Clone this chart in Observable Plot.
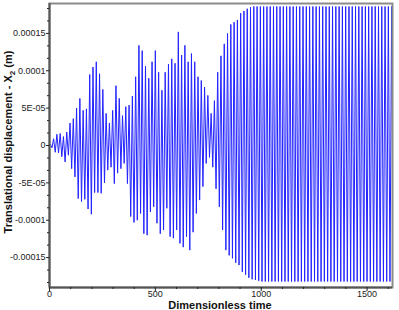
<!DOCTYPE html>
<html><head><meta charset="utf-8">
<script src="https://cdn.jsdelivr.net/npm/d3@7"></script>
<script src="https://cdn.jsdelivr.net/npm/@observablehq/plot@0.6"></script>
<style>html,body{margin:0;padding:0;background:#fff}svg{display:block}</style>
</head><body><div id="chart"></div>
<script>
// Oscillation: one maximum and one minimum per cycle (units of 1e-5 m)
const period = 15.5;          // dimensionless time per cycle
const firstPeakTime = 3.9;
const maxima = [0.2,0.9,1.5,1.6,1.2,1.8,3.0,3.6,5.0,6.3,4.7,4.9,9.5,10.5,11.2,9.6,7.5,4.3,3.0,4.7,
  8.0,6.3,4.0,5.2,5.4,6.6,9.2,13.4,12.7,10.6,9.0,11.2,12.7,9.8,7.4,9.8,10.9,11.6,11.0,15.2,
  12.1,13.4,11.2,12.3,11.2,9.2,8.7,7.8,6.7,4.3,6.0,9.8,12.0,13.6,15.0,16.2,16.5,16.8,17.7,18.0,
  18.3,18.5,18.6,18.6,18.6,18.6,18.6,18.6,18.6,18.6,18.6,18.6,18.6,18.6,18.6,18.6,18.6,18.6,18.6,18.6,
  18.6,18.6,18.6,18.6,18.6,18.6,18.6,18.6,18.6,18.6,18.6,18.6,18.6,18.6,18.6,18.6,18.6,18.6,18.6,18.6,
  18.6,18.6,18.6,18.6,18.6];
const minima = [-0.3,-0.9,-1.0,-1.5,-2.2,-1.3,-3.1,-4.2,-7.1,-7.5,-7.2,-8.5,-9.2,-6.3,-6.3,-6.4,-5.0,-3.3,-2.9,-5.1,
  -3.7,-3.1,-2.4,-5.1,-9.5,-10.3,-10.0,-9.1,-11.8,-12.0,-8.9,-8.2,-10.4,-11.8,-11.3,-8.4,-12.2,-12.4,-11.3,-13.1,
  -13.6,-12.2,-14.0,-11.6,-9.1,-7.3,-5.5,-2.4,-1.6,-2.9,-5.8,-8.2,-11.3,-14.0,-14.7,-15.1,-15.7,-16.0,-16.9,-17.3,
  -17.7,-17.9,-18.0,-18.1,-18.2,-18.2,-18.2,-18.2,-18.2,-18.2,-18.2,-18.2,-18.2,-18.2,-18.2,-18.2,-18.2,-18.2,-18.2,-18.2,
  -18.2,-18.2,-18.2,-18.2,-18.2,-18.2,-18.2,-18.2,-18.2,-18.2,-18.2,-18.2,-18.2,-18.2,-18.2,-18.2,-18.2,-18.2,-18.2,-18.2,
  -18.2,-18.2,-18.2,-18.2,-18.2];
const valueUnit = 1e-5;

const xMajorTicks = [0, 500, 1000, 1500];
const xMinorTicks = [100, 200, 300, 400, 600, 700, 800, 900, 1100, 1200, 1300, 1400, 1600];
const yMajorTicks = [-0.00015, -0.0001, -0.00005, 0, 0.00005, 0.0001, 0.00015];
const yTickLabels = ["-0.00015", "-0.0001", "-5E-05", "0", "5E-05", "0.0001", "0.00015"];
const yMinorTicks = [-0.00018333, -0.00016667, -0.00013333, -0.00011667, -0.00008333, -0.00006667,
  -0.00003333, -0.00001667, 0.00001667, 0.00003333, 0.00006667, 0.00008333, 0.00011667, 0.00013333,
  0.00016667, 0.00018333];
const xTitle = "Dimensionless time";
const yTitleParts = ["Translational displacement - X", "2", " (m)"];

const series = [{t: 0, v: 0}];
maxima.forEach((m, k) => {
  series.push({t: firstPeakTime + k * period, v: m * valueUnit});
  series.push({t: firstPeakTime + (k + 0.5) * period, v: minima[k] * valueUnit});
});

const yDomain = [-0.00019, 0.00019];
const plot = Plot.plot({
  width: 399, height: 310,
  marginLeft: 49, marginRight: 7, marginTop: 3, marginBottom: 23,
  x: {domain: [0, 1620]},
  y: {domain: yDomain},
  style: {fontFamily: "'Liberation Sans', Arial, sans-serif", fontSize: "9px", color: "#222", background: "#fff"},
  marks: [
    Plot.line(series, {x: "t", y: "v", stroke: "#2323ff", strokeWidth: 1, clip: true}),
    Plot.frame({stroke: "#8c8c8c", strokeWidth: 2}),
    Plot.ruleX([0], {stroke: "#555", strokeWidth: 2}),
    Plot.ruleY([yDomain[0]], {stroke: "#555", strokeWidth: 2}),
    Plot.axisX({ticks: xMajorTicks, tickSize: 4, tickPadding: -0.5, label: null, tickFormat: d => String(d)}),
    Plot.axisX({ticks: xMinorTicks, tickSize: 2, label: null, tickFormat: () => ""}),
    Plot.axisY({ticks: yMajorTicks, tickSize: 3, tickPadding: 1, label: null,
      tickFormat: d => yTickLabels[yMajorTicks.indexOf(d)]}),
    Plot.axisY({ticks: yMinorTicks, tickSize: 2, label: null, tickFormat: () => ""})
  ]
});
document.getElementById("chart").appendChild(plot);

const svg = d3.select(plot);
svg.append("text")
  .attr("x", 220).attr("y", 308.5)
  .attr("text-anchor", "middle")
  .attr("font-family", "'Liberation Sans', Arial, sans-serif")
  .attr("font-weight", "bold").attr("font-size", 11).attr("fill", "#111")
  .text(xTitle);
const yl = svg.append("text")
  .attr("transform", "translate(12,142) rotate(-90)")
  .attr("text-anchor", "middle")
  .attr("font-family", "'Liberation Sans', Arial, sans-serif")
  .attr("font-weight", "bold").attr("font-size", 11).attr("fill", "#111");
yl.append("tspan").text(yTitleParts[0]);
yl.append("tspan").attr("dy", 2.5).attr("font-size", 8).text(yTitleParts[1]);
yl.append("tspan").attr("dy", -2.5).text(yTitleParts[2]);
</script>
</body></html>
